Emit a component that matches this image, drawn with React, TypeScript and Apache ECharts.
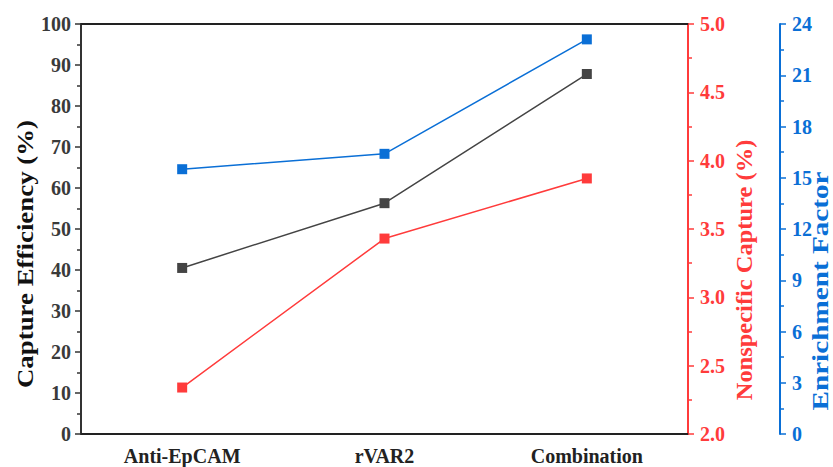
import React, { useEffect, useRef } from "react";
import * as echarts from "echarts";

const categories = ["Anti-EpCAM", "rVAR2", "Combination"];
const captureEfficiency = [40.5, 56.3, 87.8];
const nonspecificCapture = [2.34, 3.43, 3.87];
const enrichmentFactor = [15.5, 16.4, 23.1];

const FONT = "Liberation Serif";
const BLACK = "#444444";
const RED = "#ff3b3b";
const BLUE = "#0a6fd6";

export default function App() {
  const ref = useRef<HTMLDivElement>(null);
  useEffect(() => {
    const chart = echarts.init(ref.current!, undefined, { renderer: "svg" });
    const labelBase = { fontFamily: FONT, fontWeight: "bold", fontSize: 20 };
    const titleStyle = (text: string, color: string, size: number) => ({
      text,
      fill: color,
      font: `bold ${size}px "Liberation Serif"`,
      align: "center",
      verticalAlign: "middle",
    });
    chart.setOption({
      animation: false,
      backgroundColor: "#ffffff",
      grid: { left: 81, right: 145, top: 24, bottom: 33, containLabel: false },
      graphic: [
        {
          type: "text",
          x: 25,
          y: 254,
          rotation: Math.PI / 2,
          scaleX: 1.12,
          style: titleStyle("Capture Efficiency (%)", "#111", 24),
        },
        {
          type: "text",
          x: 744,
          y: 270,
          rotation: Math.PI / 2,
          scaleX: 1.02,
          style: titleStyle("Nonspecific Capture (%)", RED, 24),
        },
        {
          type: "text",
          x: 821,
          y: 291,
          rotation: Math.PI / 2,
          scaleX: 1.27,
          style: titleStyle("Enrichment Factor", BLUE, 23),
        },
      ],
      xAxis: [
        {
          type: "category",
          data: categories,
          position: "bottom",
          boundaryGap: true,
          axisLine: { lineStyle: { color: "#222", width: 2 } },
          axisTick: { alignWithLabel: true, length: 6, lineStyle: { color: "#222", width: 1.5 } },
          axisLabel: { ...labelBase, color: "#222", margin: 12 },
        },
        {
          type: "category",
          data: categories,
          position: "bottom",
          boundaryGap: true,
          axisLine: { show: false },
          axisTick: { length: 4, lineStyle: { color: "#222", width: 1.5 } },
          axisLabel: { show: false },
        },
        {
          type: "category",
          data: categories,
          position: "top",
          axisLine: { lineStyle: { color: "#222", width: 2 } },
          axisTick: { show: false },
          axisLabel: { show: false },
        },
      ],
      yAxis: [
        {
          type: "value",
          position: "left",
          min: 0,
          max: 100,
          interval: 10,
          axisLine: { show: true, lineStyle: { color: "#333", width: 2 } },
          axisTick: { show: true, length: 6, lineStyle: { color: "#333", width: 1.5 } },
          minorTick: { show: true, splitNumber: 2, length: 4, lineStyle: { color: "#333", width: 1.5 } },
          axisLabel: { ...labelBase, color: "#3a3a3a", margin: 10 },
          splitLine: { show: false },
        },
        {
          type: "value",
          position: "right",
          offset: 0,
          min: 2,
          max: 5,
          interval: 0.5,
          axisLine: { show: true, lineStyle: { color: RED, width: 2 } },
          axisTick: { show: true, length: 6, lineStyle: { color: RED, width: 1.5 } },
          minorTick: { show: true, splitNumber: 2, length: 4, lineStyle: { color: RED, width: 1.5 } },
          axisLabel: { ...labelBase, color: RED, margin: 12, formatter: (v: number) => v.toFixed(1) },
          splitLine: { show: false },
        },
        {
          type: "value",
          position: "right",
          offset: 92,
          min: 0,
          max: 24,
          interval: 3,
          axisLine: { show: true, lineStyle: { color: BLUE, width: 2 } },
          axisTick: { show: true, length: 6, lineStyle: { color: BLUE, width: 1.5 } },
          minorTick: { show: true, splitNumber: 2, length: 4, lineStyle: { color: BLUE, width: 1.5 } },
          axisLabel: { ...labelBase, color: BLUE, margin: 12 },
          splitLine: { show: false },
        },
      ],
      series: [
        {
          name: "Capture Efficiency",
          type: "line",
          xAxisIndex: 0,
          yAxisIndex: 0,
          data: captureEfficiency,
          symbol: "rect",
          symbolSize: 10,
          lineStyle: { color: BLACK, width: 1.5 },
          itemStyle: { color: BLACK },
        },
        {
          name: "Nonspecific Capture",
          type: "line",
          xAxisIndex: 0,
          yAxisIndex: 1,
          data: nonspecificCapture,
          symbol: "rect",
          symbolSize: 10,
          lineStyle: { color: RED, width: 1.5 },
          itemStyle: { color: RED },
        },
        {
          name: "Enrichment Factor",
          type: "line",
          xAxisIndex: 0,
          yAxisIndex: 2,
          data: enrichmentFactor,
          symbol: "rect",
          symbolSize: 10,
          lineStyle: { color: BLUE, width: 1.5 },
          itemStyle: { color: BLUE },
        },
      ],
    });
    return () => chart.dispose();
  }, []);
  return (
    <div
      ref={ref}
      style={{ position: "absolute", left: 0, top: 0, width: 833, height: 467 }}
    />
  );
}
